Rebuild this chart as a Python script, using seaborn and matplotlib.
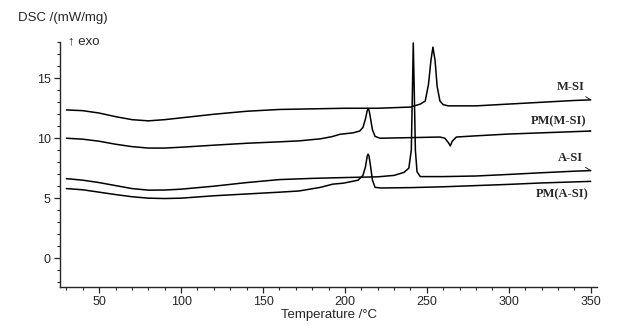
import pandas as pd
import seaborn as sns
import matplotlib.pyplot as plt
from matplotlib.ticker import MultipleLocator

# DSC traces (temperature in °C, signal in mW/mg)
t_msi = [30, 40, 50, 60, 70, 80, 90, 100, 120, 140, 160, 180, 200, 220, 240, 246,
         249, 251, 252.5, 253.7, 255, 256.3, 258, 260, 263, 280, 300, 320, 340, 350]
v_msi = [12.36, 12.3, 12.1, 11.8, 11.55, 11.45, 11.55, 11.7, 12.0, 12.25, 12.4, 12.45,
         12.5, 12.5, 12.6, 12.85, 13.1, 14.5, 16.5, 17.6, 16.5, 14.3, 13.1, 12.8, 12.7,
         12.7, 12.85, 13.0, 13.15, 13.2]

t_pm_msi = [30, 40, 50, 60, 70, 80, 90, 100, 120, 140, 160, 172, 185, 192, 197, 205,
            209, 211, 212.5, 213.6, 214.2, 214.8, 215.8, 216.8, 218.4, 221.5, 240, 258,
            261, 263.3, 264.3, 265.5, 268, 280, 300, 320, 350]
v_pm_msi = [10.0, 9.92, 9.75, 9.5, 9.3, 9.18, 9.18, 9.25, 9.42, 9.58, 9.7, 9.78, 9.95,
            10.13, 10.33, 10.45, 10.6, 10.9, 11.6, 12.3, 12.44, 12.3, 11.5, 10.7, 10.15,
            10.0, 10.05, 10.1, 10.0, 9.6, 9.36, 9.75, 10.1, 10.2, 10.35, 10.45, 10.6]

t_asi = [30, 40, 50, 60, 70, 80, 90, 100, 120, 140, 160, 180, 200, 220, 230, 236, 239,
         240.5, 241.2, 241.7, 242.3, 243, 244, 246, 260, 280, 300, 320, 340, 350]
v_asi = [6.63, 6.5, 6.3, 6.05, 5.8, 5.67, 5.68, 5.75, 6.0, 6.3, 6.55, 6.65, 6.72, 6.78,
         6.9, 7.15, 7.5, 9.0, 14.0, 17.95, 14.0, 9.0, 7.2, 6.8, 6.8, 6.85, 6.98, 7.12,
         7.25, 7.3]

t_pm_asi = [30, 40, 50, 60, 70, 80, 90, 100, 120, 140, 160, 172, 185, 192.6, 199, 208,
            211, 212.5, 213.6, 214.1, 214.7, 215.7, 216.8, 218.4, 222, 240, 260, 280,
            300, 320, 350]
v_pm_asi = [5.8, 5.7, 5.5, 5.3, 5.12, 5.0, 4.97, 5.0, 5.2, 5.35, 5.5, 5.6, 5.9, 6.17,
            6.25, 6.5, 6.9, 7.6, 8.5, 8.67, 8.5, 7.6, 6.5, 5.9, 5.85, 5.88, 5.95, 6.05,
            6.15, 6.27, 6.4]

names = ["M-SI", "PM(M-SI)", "A-SI", "PM(A-SI)"]
temps = [t_msi, t_pm_msi, t_asi, t_pm_asi]
values = [v_msi, v_pm_msi, v_asi, v_pm_asi]
label_offsets = [(-4, 9), (-3, 7), (-5.5, 9), (-1.5, -9)]
leaders = [True, True, True, False]


def main():
    sns.set_style("ticks")
    plt.rcParams['font.family'] = ['Liberation Sans', 'DejaVu Sans']

    fig = plt.figure(figsize=(6.17, 3.26), dpi=100)
    ax = fig.add_axes([0.097, 0.12, 0.871, 0.752])

    for name, t, v, off, lead in zip(names, temps, values, label_offsets, leaders):
        df = pd.DataFrame({'T': t, 'DSC': v})
        sns.lineplot(data=df, x='T', y='DSC', ax=ax, color='black', lw=1.1,
                     estimator=None)
        ax.annotate(name, xy=(t[-1], v[-1]), xytext=off, textcoords='offset points',
                    ha='right', va='center', fontsize=9, fontweight='bold',
                    family=['Liberation Serif', 'DejaVu Serif'],
                    arrowprops=dict(arrowstyle='-', lw=0.6, color='black',
                                    shrinkA=0, shrinkB=0) if lead else None)

    ax.set_xlim(26, 354)
    ax.set_ylim(-2.4, 18.05)
    ax.xaxis.set_major_locator(MultipleLocator(50))
    ax.xaxis.set_minor_locator(MultipleLocator(10))
    ax.yaxis.set_major_locator(MultipleLocator(5))
    ax.yaxis.set_minor_locator(MultipleLocator(1))
    ax.tick_params(which='major', length=4, width=0.9, labelsize=9, pad=2.5)
    ax.tick_params(which='minor', length=2, width=0.8)
    for s in ['left', 'bottom']:
        ax.spines[s].set_linewidth(1.0)
    sns.despine(ax=ax)

    ax.set_xlabel('Temperature /°C', fontsize=9.5, labelpad=1)
    ax.set_ylabel('')
    fig.text(0.029, 0.945, 'DSC /(mW/mg)', fontsize=9.5, va='center')
    ax.text(0.015, 1.0, '↑ exo', transform=ax.transAxes, fontsize=9.5, va='center')

    fig.savefig('out.png', dpi=100)


main()
